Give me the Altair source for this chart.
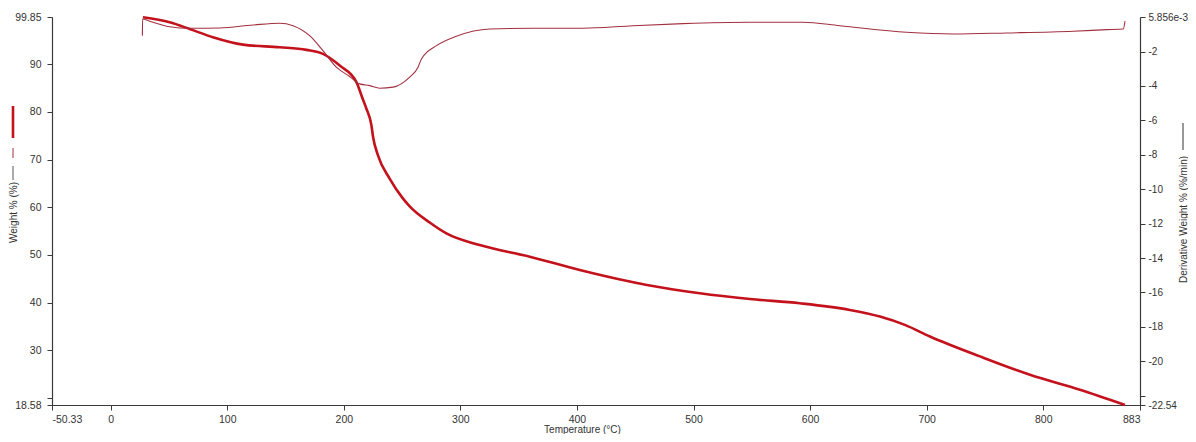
import altair as alt
import pandas as pd

# Weight % curve (thick)
TEMP_W = [27.7, 50.6, 67.8, 87.7, 113.5, 145.0, 167.9, 182.1, 196.5, 210.8, 216.5, 219.4,
          223.7, 225.1, 229.3, 239.3, 250.8, 256.5, 273.7, 288.0, 316.6, 359.5, 402.4, 445.3,
          462.5, 505.4, 548.3, 591.2, 634.1, 659.9, 681.3, 702.8, 745.7, 788.6, 831.5, 870.1]
WEIGHT = [99.79, 98.74, 97.34, 95.61, 94.06, 93.52, 92.96, 92.12, 89.67, 86.21, 82.5, 80.63,
          77.14, 74.72, 70.87, 65.99, 61.81, 60.2, 56.8, 54.52, 52.07, 49.65, 46.85, 44.43,
          43.59, 41.98, 40.79, 39.89, 38.49, 37.11, 35.36, 32.93, 28.76, 24.91, 21.78, 18.6]

# Derivative weight curve (thin)
TEMP_D = [27.2, 27.4, 33.4, 50.6, 67.8, 93.5, 122.1, 145.0, 156.4, 170.7, 182.1, 193.6,
          205.0, 213.6, 222.2, 230.8, 242.2, 256.5, 263.7, 266.6, 279.5, 296.6, 325.2,
          362.4, 405.3, 448.2, 491.1, 548.3, 594.1, 625.5, 682.8, 722.8, 768.6, 825.8,
          854.4, 868.7, 870.1]
DERIV = [-1.08, -0.11, -0.24, -0.56, -0.65, -0.63, -0.46, -0.36, -0.50, -1.08, -1.95, -2.91,
         -3.45, -3.88, -3.98, -4.13, -4.07, -3.49, -2.91, -2.43, -1.66, -1.11, -0.69,
         -0.65, -0.65, -0.50, -0.38, -0.30, -0.30, -0.50, -0.88, -0.98, -0.92, -0.82,
         -0.73, -0.69, -0.23]

X_TICKS = [-50.33, 0, 100, 200, 300, 400, 500, 600, 700, 800, 883]
X_LABELS = ["-50.33", "0", "100", "200", "300", "400", "500", "600", "700", "800", "883"]
L_TICKS = [18.58, 20, 30, 40, 50, 60, 70, 80, 90, 99.85]
L_LABELS = ["18.58", "", "30", "40", "50", "60", "70", "80", "90", "99.85"]
R_TICKS = [0.005856, -2, -4, -6, -8, -10, -12, -14, -16, -18, -20, -22, -22.54]
R_LABELS = ["5.856e-3", "-2", "-4", "-6", "-8", "-10", "-12", "-14", "-16", "-18", "-20", "", "-22.54"]


def label_expr(ticks, labels):
    expr = "''"
    for t, l in reversed(list(zip(ticks, labels))):
        expr = f"datum.value == {t} ? '{l}' : ({expr})"
    return expr


FONT = "Liberation Sans"
AX = "#3a3a3a"
LAB = "#333333"
RED = "#c3121c"
THIN = "#a13040"

df_w = pd.DataFrame({"T": TEMP_W, "W": WEIGHT})
df_d = pd.DataFrame({"T": TEMP_D, "D": DERIV})

xscale = alt.Scale(domain=[-50.33, 883], nice=False, zero=False)

x_axis = alt.Axis(values=X_TICKS, labelExpr=label_expr(X_TICKS, X_LABELS),
                  title="Temperature (°C)", titleX=530, titleY=24, titleBaseline="middle",
                  titleAnchor="start", titleAlign="center", labelPadding=4)

weight = alt.Chart(df_w).mark_line(color=RED, strokeWidth=2.6, interpolate="monotone").encode(
    x=alt.X("T:Q", scale=xscale, axis=x_axis),
    y=alt.Y("W:Q", scale=alt.Scale(domain=[18.58, 99.85], nice=False, zero=False),
            axis=alt.Axis(values=L_TICKS, labelExpr=label_expr(L_TICKS, L_LABELS),
                          title="Weight % (%)", titleX=-39, titleY=195, titleAngle=270,
                          titleBaseline="middle", titleAlign="center", labelPadding=6)),
)

deriv = alt.Chart(df_d).mark_line(color=THIN, strokeWidth=1.1, interpolate="monotone").encode(
    x=alt.X("T:Q", scale=xscale),
    y=alt.Y("D:Q", scale=alt.Scale(domain=[-22.54, 0.005856], nice=False, zero=False),
            axis=alt.Axis(orient="right", values=R_TICKS, labelExpr=label_expr(R_TICKS, R_LABELS),
                          title="Derivative Weight % (%/min)", titleX=43, titleY=202,
                          titleAngle=270, titleBaseline="middle", titleAlign="center",
                          labelPadding=3, labelFontSize=10)),
)

deco_df = pd.DataFrame({"k": [0]})
leg1 = alt.Chart(deco_df).mark_rule(color=RED, strokeWidth=2.6).encode(
    x=alt.value(-39), y=alt.value(89), y2=alt.value(121))
leg2 = alt.Chart(deco_df).mark_rule(color=THIN, strokeWidth=1).encode(
    x=alt.value(-39), y=alt.value(131), y2=alt.value(141))
leg3 = alt.Chart(deco_df).mark_rule(color="#555555", strokeWidth=1).encode(
    x=alt.value(-39), y=alt.value(149), y2=alt.value(163))
leg4 = alt.Chart(deco_df).mark_rule(color="#333333", strokeWidth=1).encode(
    x=alt.value(1131), y=alt.value(106), y2=alt.value(133))

chart = alt.layer(weight, deriv, leg1, leg2, leg3, leg4).resolve_scale(
    y="independent"
).properties(
    width=1088, height=388,
    autosize=alt.AutoSizeParams(type="none"),
    padding={"left": 44, "top": 9, "right": 48, "bottom": 29},
    background="white",
).configure_view(stroke=None).configure_axis(
    grid=False, domainColor=AX, tickColor=AX, tickSize=5, domainWidth=1.2, tickWidth=1,
    labelFont=FONT, labelFontSize=10.5, labelColor=LAB,
    titleFont=FONT, titleFontSize=10, titleFontWeight="normal", titleColor=LAB,
    labelPadding=3,
)

chart.save("out.html", embed_options={"renderer": "svg", "actions": False})
